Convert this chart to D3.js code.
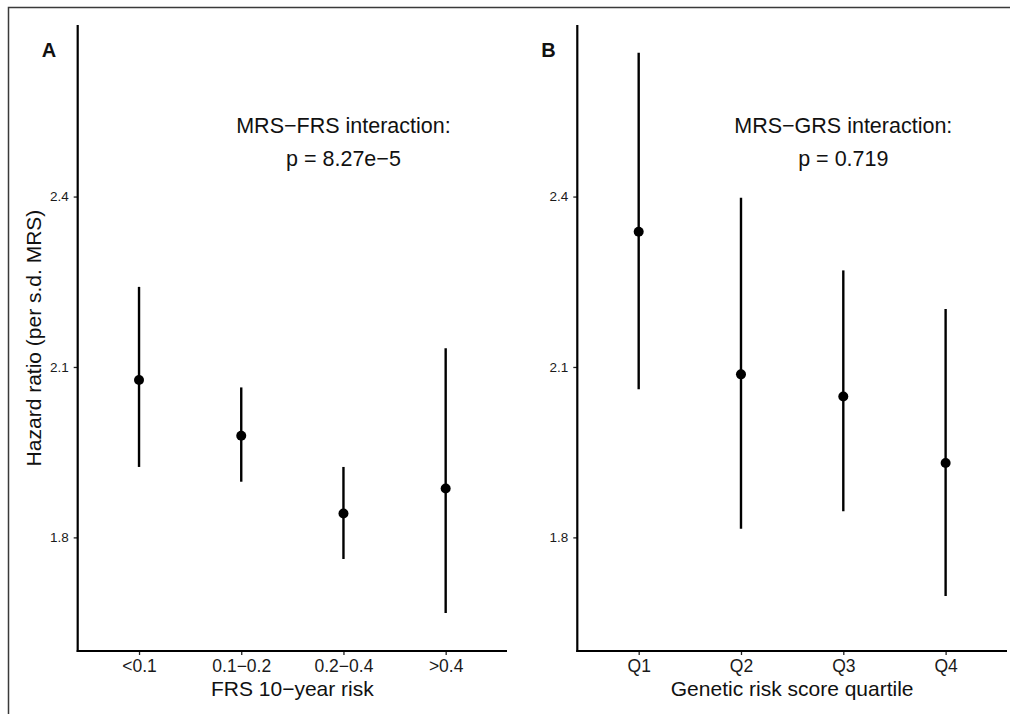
<!DOCTYPE html>
<html>
<head>
<meta charset="utf-8">
<script src="https://cdn.jsdelivr.net/npm/d3@7"></script>
<style>
  html, body { margin: 0; padding: 0; background: #fff; }
  svg { display: block; font-family: "Liberation Sans", Arial, Helvetica, sans-serif; }
</style>
</head>
<body>
<svg id="chart" width="1010" height="714"></svg>
<script>
// ---- data ----
const frsCategories = ["<0.1", "0.1\u22120.2", "0.2\u22120.4", ">0.4"];
const frsHR    = [2.077, 1.979, 1.842, 1.886];
const frsLower = [1.924, 1.898, 1.762, 1.667];
const frsUpper = [2.241, 2.064, 1.924, 2.133];

const grsCategories = ["Q1", "Q2", "Q3", "Q4"];
const grsHR    = [2.338, 2.087, 2.048, 1.931];
const grsLower = [2.061, 1.815, 1.846, 1.697];
const grsUpper = [2.653, 2.398, 2.270, 2.202];

const yTicks = [1.8, 2.1, 2.4];
const yDomain = [1.6, 2.702];

const panels = [
  { label: "A", cats: frsCategories, hr: frsHR, lo: frsLower, hi: frsUpper,
    xTitle: "FRS 10\u2212year risk", note1: "MRS\u2212FRS interaction:", note2: "p = 8.27e\u22125",
    x0: 77.7, x1: 507, showYTitle: true },
  { label: "B", cats: grsCategories, hr: grsHR, lo: grsLower, hi: grsUpper,
    xTitle: "Genetic risk score quartile", note1: "MRS\u2212GRS interaction:", note2: "p = 0.719",
    x0: 577.3, x1: 1007, showYTitle: false }
];

const svg = d3.select("#chart");
const plotTop = 25, plotBottom = 651;

// outer frame (top and left edges visible)
svg.append("path")
  .attr("d", "M8.5,714 L8.5,7.5 L1010,7.5")
  .attr("fill", "none").attr("stroke", "#3a3a3a").attr("stroke-width", 1.5);

const y = d3.scaleLinear().domain(yDomain).range([plotBottom, plotTop]);

panels.forEach(p => {
  const g = svg.append("g");
  const x = d3.scalePoint().domain(p.cats).range([p.x0, p.x1]).padding(0.6);

  // y axis
  const yAxis = g.append("g").attr("transform", `translate(${p.x0},0)`)
    .call(d3.axisLeft(y).tickValues(yTicks).tickFormat(d3.format(".1f")).tickSize(4).tickPadding(5));
  yAxis.select(".domain").remove();
  yAxis.selectAll(".tick line").attr("stroke", "#222").attr("stroke-width", 1.3);
  yAxis.selectAll(".tick text").attr("font-size", 13.5).attr("fill", "#1a1a1a")
    .attr("font-family", "Liberation Sans, Arial, sans-serif");
  g.append("line").attr("x1", p.x0).attr("x2", p.x0).attr("y1", plotTop).attr("y2", plotBottom + 1)
    .attr("stroke", "#000").attr("stroke-width", 2.2);

  // x axis
  const xAxis = g.append("g").attr("transform", `translate(0,${plotBottom})`)
    .call(d3.axisBottom(x).tickSize(4).tickPadding(5));
  xAxis.select(".domain").remove();
  xAxis.selectAll(".tick line").attr("stroke", "#222").attr("stroke-width", 1.3);
  xAxis.selectAll(".tick text").attr("font-size", 17.5).attr("fill", "#1a1a1a")
    .attr("font-family", "Liberation Sans, Arial, sans-serif");
  g.append("line").attr("x1", p.x0 - 1).attr("x2", p.x1).attr("y1", plotBottom).attr("y2", plotBottom)
    .attr("stroke", "#000").attr("stroke-width", 2.2);

  // error bars
  g.selectAll("line.ci").data(p.cats).join("line").attr("class", "ci")
    .attr("x1", d => x(d)).attr("x2", d => x(d))
    .attr("y1", (d, i) => y(p.hi[i])).attr("y2", (d, i) => y(p.lo[i]))
    .attr("stroke", "#000").attr("stroke-width", 2.4);
  // points
  g.selectAll("circle.pt").data(p.cats).join("circle").attr("class", "pt")
    .attr("cx", d => x(d)).attr("cy", (d, i) => y(p.hr[i])).attr("r", 5)
    .attr("fill", "#000");

  // x title
  g.append("text").attr("x", (p.x0 + p.x1) / 2).attr("y", 695.5)
    .attr("text-anchor", "middle").attr("font-size", 21).attr("fill", "#111").text(p.xTitle);

  // panel label
  g.append("text").attr("x", p.x0 - 36).attr("y", 57)
    .attr("font-size", 20).attr("font-weight", "bold").attr("fill", "#111").text(p.label);

  // annotation centered on third category
  const cx = x(p.cats[2]);
  g.append("text").attr("x", cx).attr("y", 133).attr("text-anchor", "middle")
    .attr("font-size", 21.5).attr("fill", "#111").text(p.note1);
  g.append("text").attr("x", cx).attr("y", 166).attr("text-anchor", "middle")
    .attr("font-size", 21.5).attr("fill", "#111").text(p.note2);

  if (p.showYTitle) {
    g.append("text").attr("transform", `translate(41,${(plotTop + plotBottom) / 2}) rotate(-90)`)
      .attr("text-anchor", "middle").attr("font-size", 21).attr("fill", "#111")
      .text("Hazard ratio (per s.d. MRS)");
  }
});
</script>
</body>
</html>
